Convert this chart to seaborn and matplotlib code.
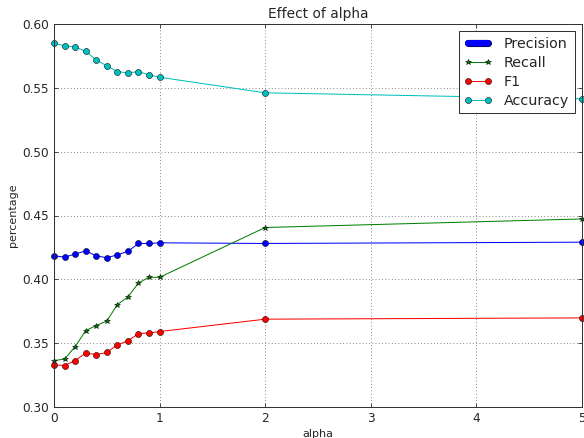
import matplotlib
matplotlib.use("Agg")
import numpy as np
import pandas as pd
import seaborn as sns
from matplotlib import pyplot as plt
from matplotlib.lines import Line2D
import matplotlib.patheffects as pe

# values
alpha = [0.0, 0.1, 0.2, 0.3, 0.4, 0.5, 0.6, 0.7, 0.8, 0.9, 1.0, 2.0, 5.0]
precision = [0.4184, 0.4174, 0.4198, 0.4223, 0.4184, 0.4169, 0.4192, 0.4219,
             0.4281, 0.4281, 0.4286, 0.4281, 0.4291]
recall = [0.3364, 0.3375, 0.3473, 0.3598, 0.3638, 0.3674, 0.3802, 0.3862,
          0.3971, 0.4016, 0.4016, 0.4406, 0.4473]
f1 = [0.3330, 0.3325, 0.3364, 0.3422, 0.3411, 0.3427, 0.3487, 0.3518,
      0.3575, 0.3580, 0.3591, 0.3688, 0.3698]
accuracy = [0.5848, 0.5830, 0.5820, 0.5786, 0.5719, 0.5672, 0.5627, 0.5617,
            0.5627, 0.5602, 0.5583, 0.5461, 0.5414]

sns.set_style("white", {
    "axes.edgecolor": "#333333",
    "xtick.direction": "in",
    "ytick.direction": "in",
    "xtick.bottom": True,
    "ytick.left": True,
    "xtick.top": True,
    "ytick.right": True,
})
plt.rcParams["font.family"] = ["DejaVu Sans"]

df = pd.DataFrame({"alpha": alpha, "Precision": precision, "Recall": recall,
                   "F1": f1, "Accuracy": accuracy})

fig = plt.figure(figsize=(8, 6), dpi=73)
ax = fig.add_axes([54 / 584, 31 / 438, 528 / 584, 383 / 438])

series = [
    ("Precision", "b", "o", 6),
    ("Recall", "g", "*", 6),
    ("F1", "r", "o", 6),
    ("Accuracy", "c", "o", 6),
]
for name, col, mk, ms in series:
    sns.lineplot(data=df, x="alpha", y=name, ax=ax, color=col, marker=mk,
                 markersize=ms, markeredgecolor="k", markeredgewidth=0.5,
                 linewidth=1, clip_on=False)

ax.set_xlim(0, 5)
ax.set_ylim(0.30, 0.60)
ax.set_xticks([0, 1, 2, 3, 4, 5])
ax.set_yticks(np.arange(0.30, 0.601, 0.05))
ax.set_yticklabels(["%.2f" % v for v in np.arange(0.30, 0.601, 0.05)])
ax.tick_params(labelsize=12, length=4, width=0.8, pad=5)
ax.grid(True, color="#555555", linestyle=(0, (1, 3)), linewidth=0.8)
for s in ax.spines.values():
    s.set_linewidth(1.0)

ax.set_title("Effect of alpha", fontsize=13.5)
ax.set_xlabel("alpha", fontsize=11)
ax.set_ylabel("percentage", fontsize=11)

handles = [
    Line2D([], [], color="b", linewidth=6, solid_capstyle="round",
           path_effects=[pe.Stroke(linewidth=7, foreground="#000066"), pe.Normal()]),
    Line2D([], [], color="g", marker="*", markersize=6, markeredgecolor="k",
           markeredgewidth=0.5, linewidth=1),
    Line2D([], [], color="r", marker="o", markersize=6, markeredgecolor="k",
           markeredgewidth=0.5, linewidth=1),
    Line2D([], [], color="c", marker="o", markersize=6, markeredgecolor="k",
           markeredgewidth=0.5, linewidth=1),
]
leg = ax.legend(handles, ["Precision", "Recall", "F1", "Accuracy"],
                loc="upper right", fontsize=14, numpoints=2, fancybox=False,
                framealpha=1, edgecolor="#333333", handlelength=2.0,
                borderaxespad=0.5, labelspacing=0.35, handletextpad=0.8)
leg.get_frame().set_linewidth(1.0)

fig.savefig("out.png", dpi=73)
